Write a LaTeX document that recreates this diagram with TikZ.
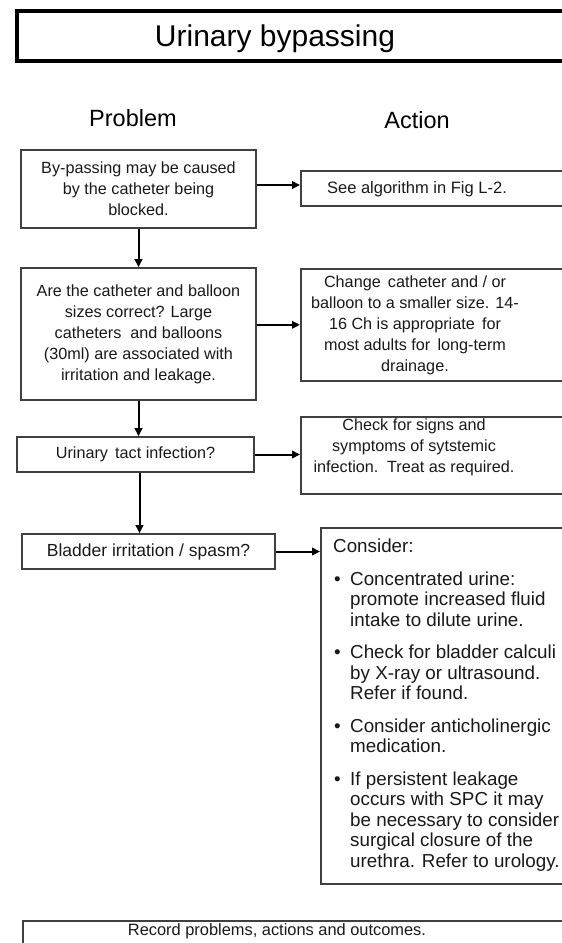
\documentclass[tikz,border=0pt]{standalone}
\usepackage{fontspec}
\setmainfont{Liberation Sans}
\usetikzlibrary{arrows.meta}

\newcommand{\bitem}{\hspace*{1pt}\makebox[16pt][l]{\textbullet}}
\newcommand{\bcont}{\hspace*{17pt}}

\begin{document}
\begin{tikzpicture}[x=1pt, y=-1pt,
  box/.style={draw=black!75, line width=1.6pt, inner sep=0pt},
  txt/.style={font=\fontsize{16.2}{21}\selectfont, align=center, text=black!90},
  arr/.style={line width=2pt, -{Triangle[length=8pt,width=7.5pt]}}]
\useasboundingbox (0,0) rectangle (562,943);
\clip (0,0) rectangle (562,943);

% title and column heads
\draw [line width=3.5pt] (17,11) rectangle (590,61);
\node [anchor=base, font=\fontsize{30}{36}\selectfont] (title) at (275,46.7) {Urinary bypassing};
\node [anchor=base, font=\fontsize{23.5}{28}\selectfont] (probhead) at (133,126.7) {Problem};
\node [anchor=base, font=\fontsize{23.5}{28}\selectfont] (acthead) at (417,128) {Action};

% problem column
\node [box, txt, minimum width=235pt, minimum height=78pt] (prob1) at (138.5,189) {By-passing may be caused\\by the catheter being\\blocked.};
\node [box, txt, minimum width=235pt, minimum height=132pt] (prob2) at (138.5,334) {Are the catheter and balloon\\sizes correct? Large\\catheters \ and balloons\\(30ml) are associated with\\irritation and leakage.};
\node [box, txt, minimum width=237pt, minimum height=35pt] (prob3) at (135.5,454.5) {Urinary \,tact infection?};
\node [box, txt, font=\fontsize{17.5}{21}\selectfont, minimum width=253pt, minimum height=35pt] (prob4) at (148.5,551.5) {Bladder irritation / spasm?};

% action column
\node [box, anchor=north west, minimum width=290pt, minimum height=35pt] (act1) at (300,170) {};
\node [txt, font=\fontsize{16.5}{21}\selectfont] (act1txt) at (417,189.5) {See algorithm in Fig L-2.};
\node [box, anchor=north west, minimum width=290pt, minimum height=112pt] (act2) at (300,268) {};
\node [txt] (act2txt) at (415,325) {Change \,catheter and / or\\balloon to a smaller size. 14-\\16 Ch is appropriate \,for\\most adults for \,long-term\\drainage.};
\node [box, anchor=north west, minimum width=290pt, minimum height=77pt] (act3) at (300,416) {};
\node [txt] (act3txt) at (414,447) {Check for signs and\\symptoms of sytstemic\\infection. \,Treat as required.};
\node [box, anchor=north west, minimum width=270pt, minimum height=356pt] (act4) at (320,527) {};
\node [anchor=north west, align=left, inner sep=0pt, text=black!90, font=\fontsize{18.8}{20.5}\selectfont] (act4txt) at (333,539) {Consider:\\[12pt]
\bitem Concentrated urine:\\
\bcont promote increased fluid\\
\bcont intake to dilute urine.\\[12pt]
\bitem Check for bladder calculi\\
\bcont by X-ray or ultrasound.\\
\bcont Refer if found.\\[12pt]
\bitem Consider anticholinergic\\
\bcont medication.\\[12pt]
\bitem If persistent leakage\\
\bcont occurs with SPC it may\\
\bcont be necessary to consider\\
\bcont surgical closure of the\\
\bcont urethra. Refer to urology.};

% record box
\node [box, anchor=north west, minimum width=570pt, minimum height=60pt] (rec) at (22,920) {};
\node [txt, anchor=base, font=\fontsize{16.4}{21}\selectfont] (rectxt) at (277,935) {Record problems, actions and outcomes.};

% connectors
\draw [arr] (prob1.south) -- (prob2.north);
\draw [arr] (prob2.south) -- (prob2.south |- prob3.north);
\draw [arr] ([xshift=4pt]prob3.south) -- ([xshift=4pt]prob3.south |- prob4.north);
\draw [arr] ([yshift=4pt]prob1.east) -- ([yshift=4pt]prob1.east -| act1.west);
\draw [arr] (act2.west -| prob2.east) -- (act2.west);
\draw [arr] (prob3.east) -- (prob3.east -| act3.west);
\draw [arr] (prob4.east) -- (prob4.east -| act4.west);
\end{tikzpicture}
\end{document}
